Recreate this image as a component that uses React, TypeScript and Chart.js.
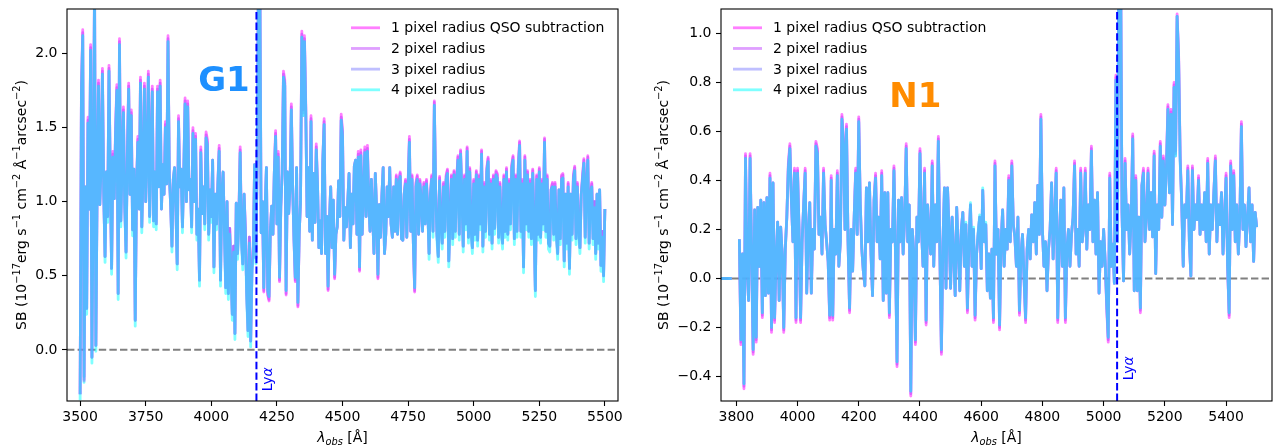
import React, { useEffect, useRef } from 'react';
import { Chart, registerables } from 'chart.js';

Chart.register(...registerables);

const FONT = "'DejaVu Sans', 'Liberation Sans', sans-serif";

const SERIES_LABELS = [
  '1 pixel radius QSO subtraction',
  '2 pixel radius',
  '3 pixel radius',
  '4 pixel radius',
];
const SERIES_COLORS = [
  'rgba(255,0,255,0.5)',
  'rgba(191,64,255,0.5)',
  'rgba(128,128,255,0.5)',
  'rgba(0,255,255,0.5)',
];

// ---------------- G1 panel (left) ----------------
const G1_WAVE_START = 3500;
const G1_WAVE_STEP = 5;
const G1_SB_R1 = [
  -0.30, 1.77, 2.16, -0.21, 1.10, 0.28, 1.57, 0.95, 2.06, -0.05, 1.15, 2.49, 0.03, 1.12, 1.82, 0.98, 1.25, 1.90, 1.05, 0.63,
  1.20, 0.90, 1.92, 1.15, 0.55, 1.34, 1.02, 1.49, 1.79, 0.38, 2.10, 0.87, 1.25, 1.64, 0.98, 0.66, 1.34, 1.80, 1.05, 1.62,
  0.81, 1.22, 0.20, 1.10, 1.44, 0.95, 1.84, 0.83, 1.20, 1.80, 1.00, 1.34, 1.88, 0.90, 1.39, 1.78, 0.87, 1.20, 0.85, 1.78,
  1.10, 1.82, 0.95, 1.25, 1.05, 1.54, 1.12, 2.12, 1.18, 0.98, 0.70, 1.15, 1.23, 0.95, 0.58, 1.58, 1.10, 1.22, 0.83, 1.20,
  1.70, 1.00, 1.68, 1.08, 1.15, 0.83, 1.50, 1.00, 1.46, 0.78, 0.95, 0.47, 1.37, 0.92, 1.10, 0.85, 1.47, 1.42, 0.78, 1.08,
  0.90, 1.28, 0.56, 1.05, 0.85, 1.12, 1.38, 0.47, 1.05, 1.20, 0.80, 0.42, 1.00, 0.38, 0.82, 0.55, 0.24, 0.70, 0.11, 0.99,
  0.65, 0.90, 1.37, 0.75, 0.58, 1.05, 0.80, 0.38, 0.13, 0.76, 0.06, 0.55, 0.70, 1.25, 0.62, 1.34, 2.64, 2.54, 0.79, 1.00,
  0.39, 0.95, 1.23, 0.37, 0.33, 0.80, 0.97, 0.78, 1.19, 1.48, 0.85, 1.34, 0.46, 0.97, 1.19, 1.88, 1.82, 0.37, 1.20, 0.92,
  1.10, 1.66, 1.10, 0.75, 0.46, 1.23, 0.29, 0.78, 1.00, 2.15, 1.62, 2.12, 1.65, 0.90, 1.23, 0.80, 1.58, 0.74, 1.19, 0.86,
  1.39, 1.10, 0.69, 0.87, 0.65, 1.28, 1.56, 0.65, 0.90, 0.40, 0.87, 1.10, 0.69, 1.01, 0.48, 0.78, 0.83, 1.14, 0.90, 1.59,
  1.48, 0.74, 0.96, 0.83, 1.00, 1.19, 0.69, 1.05, 0.85, 1.24, 1.28, 0.78, 1.34, 0.53, 1.35, 0.78, 1.05, 1.37, 0.90, 1.38,
  1.00, 0.80, 1.15, 0.90, 0.65, 1.19, 0.95, 0.48, 0.98, 0.76, 1.04, 1.23, 0.65, 0.78, 1.10, 0.90, 1.23, 0.85, 0.76, 1.10,
  0.80, 1.18, 0.78, 1.15, 1.20, 0.75, 0.74, 1.05, 1.15, 0.76, 1.13, 1.44, 0.80, 1.18, 0.72, 0.39, 1.13, 1.18, 0.78, 1.15,
  1.01, 0.80, 1.13, 0.85, 1.15, 0.95, 0.65, 1.05, 1.18, 0.80, 1.68, 1.08, 0.78, 0.63, 1.17, 0.85, 0.72, 1.13, 0.80, 1.18,
  1.22, 0.60, 0.90, 1.18, 0.75, 1.21, 0.80, 1.15, 1.31, 0.78, 1.35, 1.05, 0.70, 1.18, 0.85, 1.37, 0.76, 1.23, 0.82, 0.69,
  1.15, 0.78, 1.21, 0.74, 1.18, 0.85, 1.35, 0.70, 1.13, 0.80, 1.23, 1.30, 0.78, 1.15, 0.72, 1.18, 0.82, 1.21, 1.19, 0.76,
  1.13, 0.82, 0.72, 1.18, 0.80, 1.23, 0.78, 1.15, 0.85, 1.25, 1.31, 0.75, 1.18, 0.80, 1.25, 1.41, 0.80, 1.15, 0.56, 1.31,
  0.85, 1.21, 0.80, 1.15, 0.75, 1.22, 0.85, 0.40, 1.18, 0.78, 1.23, 0.76, 1.15, 0.85, 1.43, 0.80, 1.18, 0.72, 0.70, 1.08,
  1.13, 0.78, 1.13, 0.80, 0.65, 1.08, 0.75, 1.18, 1.19, 0.60, 1.05, 0.72, 1.13, 0.55, 1.05, 0.78, 1.18, 1.24, 0.75, 1.13,
  0.82, 0.69, 1.05, 1.18, 1.29, 0.76, 1.13, 1.31, 0.72, 1.05, 1.13, 0.75, 1.00, 0.65, 1.05, 0.72, 1.08, 0.57, 0.80, 0.50,
  0.95,
];
const G1_SB_R2 = [
  -0.30, 1.75, 2.14, -0.20, 1.10, 0.28, 1.55, 0.95, 2.04, -0.05, 1.15, 2.47, 0.03, 1.12, 1.80, 0.98, 1.25, 1.88, 1.05, 0.63,
  1.20, 0.90, 1.90, 1.15, 0.55, 1.32, 1.02, 1.47, 1.77, 0.38, 2.08, 0.87, 1.25, 1.62, 0.98, 0.66, 1.32, 1.78, 1.05, 1.60,
  0.81, 1.22, 0.20, 1.10, 1.42, 0.95, 1.82, 0.83, 1.20, 1.78, 1.00, 1.32, 1.86, 0.90, 1.37, 1.76, 0.87, 1.20, 0.85, 1.76,
  1.10, 1.80, 0.95, 1.25, 1.05, 1.52, 1.12, 2.10, 1.18, 0.98, 0.70, 1.15, 1.23, 0.95, 0.58, 1.56, 1.10, 1.22, 0.83, 1.20,
  1.68, 1.00, 1.66, 1.08, 1.15, 0.83, 1.48, 1.00, 1.44, 0.78, 0.95, 0.47, 1.35, 0.92, 1.10, 0.85, 1.45, 1.40, 0.78, 1.08,
  0.90, 1.28, 0.56, 1.05, 0.85, 1.12, 1.36, 0.47, 1.05, 1.20, 0.80, 0.42, 1.00, 0.38, 0.82, 0.55, 0.24, 0.70, 0.11, 0.99,
  0.65, 0.90, 1.35, 0.75, 0.58, 1.05, 0.80, 0.38, 0.13, 0.76, 0.06, 0.55, 0.70, 1.25, 0.62, 1.32, 2.62, 2.52, 0.79, 1.00,
  0.40, 0.95, 1.23, 0.38, 0.34, 0.80, 0.97, 0.78, 1.19, 1.46, 0.85, 1.32, 0.47, 0.97, 1.19, 1.86, 1.80, 0.38, 1.20, 0.92,
  1.10, 1.64, 1.10, 0.75, 0.47, 1.23, 0.30, 0.78, 1.00, 2.13, 1.60, 2.10, 1.63, 0.90, 1.23, 0.80, 1.56, 0.74, 1.19, 0.86,
  1.37, 1.10, 0.69, 0.87, 0.65, 1.28, 1.54, 0.65, 0.90, 0.41, 0.87, 1.10, 0.69, 1.01, 0.49, 0.78, 0.83, 1.14, 0.90, 1.57,
  1.46, 0.74, 0.96, 0.83, 1.00, 1.19, 0.69, 1.05, 0.85, 1.24, 1.28, 0.78, 1.32, 0.54, 1.33, 0.78, 1.05, 1.35, 0.90, 1.36,
  1.00, 0.80, 1.15, 0.90, 0.65, 1.19, 0.95, 0.49, 0.98, 0.76, 1.04, 1.23, 0.65, 0.78, 1.10, 0.90, 1.23, 0.85, 0.76, 1.10,
  0.80, 1.17, 0.78, 1.14, 1.19, 0.75, 0.74, 1.05, 1.14, 0.76, 1.12, 1.42, 0.80, 1.17, 0.72, 0.40, 1.12, 1.17, 0.78, 1.14,
  1.01, 0.80, 1.12, 0.85, 1.14, 0.95, 0.65, 1.05, 1.17, 0.80, 1.67, 1.08, 0.78, 0.63, 1.16, 0.85, 0.72, 1.12, 0.80, 1.17,
  1.21, 0.60, 0.90, 1.17, 0.75, 1.20, 0.80, 1.14, 1.30, 0.78, 1.34, 1.05, 0.70, 1.17, 0.85, 1.36, 0.76, 1.22, 0.82, 0.69,
  1.14, 0.78, 1.20, 0.74, 1.17, 0.85, 1.34, 0.70, 1.12, 0.80, 1.22, 1.29, 0.78, 1.14, 0.72, 1.17, 0.82, 1.20, 1.18, 0.76,
  1.12, 0.82, 0.72, 1.17, 0.80, 1.22, 0.78, 1.14, 0.85, 1.24, 1.30, 0.75, 1.17, 0.80, 1.24, 1.40, 0.80, 1.14, 0.56, 1.30,
  0.85, 1.20, 0.80, 1.14, 0.75, 1.21, 0.85, 0.40, 1.17, 0.78, 1.22, 0.76, 1.14, 0.85, 1.42, 0.80, 1.17, 0.72, 0.70, 1.08,
  1.12, 0.78, 1.12, 0.80, 0.65, 1.08, 0.75, 1.17, 1.18, 0.60, 1.05, 0.72, 1.12, 0.55, 1.05, 0.78, 1.17, 1.23, 0.75, 1.12,
  0.82, 0.69, 1.05, 1.17, 1.28, 0.76, 1.12, 1.30, 0.72, 1.05, 1.12, 0.75, 1.00, 0.65, 1.05, 0.72, 1.08, 0.57, 0.80, 0.50,
  0.95,
];
const G1_SB_R3 = [
  -0.30, 1.73, 2.12, -0.18, 1.10, 0.28, 1.53, 0.95, 2.02, -0.05, 1.15, 2.45, 0.03, 1.12, 1.78, 0.98, 1.25, 1.86, 1.05, 0.63,
  1.20, 0.90, 1.88, 1.15, 0.55, 1.30, 1.02, 1.45, 1.75, 0.38, 2.06, 0.87, 1.25, 1.60, 0.98, 0.66, 1.30, 1.76, 1.05, 1.58,
  0.81, 1.22, 0.20, 1.10, 1.40, 0.95, 1.80, 0.83, 1.20, 1.76, 1.00, 1.30, 1.84, 0.90, 1.35, 1.74, 0.87, 1.20, 0.85, 1.74,
  1.10, 1.78, 0.95, 1.25, 1.05, 1.50, 1.12, 2.08, 1.18, 0.98, 0.70, 1.15, 1.23, 0.95, 0.58, 1.54, 1.10, 1.22, 0.83, 1.20,
  1.66, 1.00, 1.64, 1.08, 1.15, 0.83, 1.46, 1.00, 1.42, 0.78, 0.95, 0.47, 1.33, 0.92, 1.10, 0.85, 1.43, 1.38, 0.78, 1.08,
  0.90, 1.28, 0.56, 1.05, 0.85, 1.12, 1.34, 0.47, 1.05, 1.20, 0.80, 0.42, 1.00, 0.38, 0.82, 0.55, 0.24, 0.70, 0.11, 0.99,
  0.65, 0.90, 1.33, 0.75, 0.58, 1.05, 0.80, 0.38, 0.13, 0.76, 0.06, 0.55, 0.70, 1.25, 0.62, 1.30, 2.60, 2.50, 0.79, 1.00,
  0.42, 0.95, 1.23, 0.40, 0.36, 0.80, 0.97, 0.78, 1.19, 1.44, 0.85, 1.30, 0.49, 0.97, 1.19, 1.84, 1.78, 0.40, 1.20, 0.92,
  1.10, 1.62, 1.10, 0.75, 0.49, 1.23, 0.32, 0.78, 1.00, 2.11, 1.58, 2.08, 1.61, 0.90, 1.23, 0.80, 1.54, 0.74, 1.19, 0.86,
  1.35, 1.10, 0.69, 0.87, 0.65, 1.28, 1.52, 0.65, 0.90, 0.43, 0.87, 1.10, 0.69, 1.01, 0.51, 0.78, 0.83, 1.14, 0.90, 1.55,
  1.44, 0.74, 0.96, 0.83, 1.00, 1.19, 0.69, 1.05, 0.85, 1.24, 1.28, 0.78, 1.30, 0.56, 1.31, 0.78, 1.05, 1.33, 0.90, 1.34,
  1.00, 0.80, 1.15, 0.90, 0.65, 1.19, 0.95, 0.51, 0.98, 0.76, 1.04, 1.23, 0.65, 0.78, 1.10, 0.90, 1.23, 0.85, 0.76, 1.10,
  0.80, 1.15, 0.78, 1.12, 1.17, 0.75, 0.74, 1.05, 1.12, 0.76, 1.10, 1.40, 0.80, 1.15, 0.72, 0.42, 1.10, 1.15, 0.78, 1.12,
  1.01, 0.80, 1.10, 0.85, 1.12, 0.95, 0.65, 1.05, 1.15, 0.80, 1.65, 1.08, 0.78, 0.63, 1.14, 0.85, 0.72, 1.10, 0.80, 1.15,
  1.19, 0.60, 0.90, 1.15, 0.75, 1.18, 0.80, 1.12, 1.28, 0.78, 1.32, 1.05, 0.70, 1.15, 0.85, 1.34, 0.76, 1.20, 0.82, 0.69,
  1.12, 0.78, 1.18, 0.74, 1.15, 0.85, 1.32, 0.70, 1.10, 0.80, 1.20, 1.27, 0.78, 1.12, 0.72, 1.15, 0.82, 1.18, 1.16, 0.76,
  1.10, 0.82, 0.72, 1.15, 0.80, 1.20, 0.78, 1.12, 0.85, 1.22, 1.28, 0.75, 1.15, 0.80, 1.22, 1.38, 0.80, 1.12, 0.56, 1.28,
  0.85, 1.18, 0.80, 1.12, 0.75, 1.19, 0.85, 0.40, 1.15, 0.78, 1.20, 0.76, 1.12, 0.85, 1.40, 0.80, 1.15, 0.72, 0.70, 1.08,
  1.10, 0.78, 1.10, 0.80, 0.65, 1.08, 0.75, 1.15, 1.16, 0.60, 1.05, 0.72, 1.10, 0.55, 1.05, 0.78, 1.15, 1.21, 0.75, 1.10,
  0.82, 0.69, 1.05, 1.15, 1.26, 0.76, 1.10, 1.28, 0.72, 1.05, 1.10, 0.75, 1.00, 0.65, 1.05, 0.72, 1.08, 0.57, 0.80, 0.50,
  0.95,
];
const G1_SB_R4 = [
  -0.34, 1.73, 2.12, -0.22, 1.10, 0.24, 1.53, 0.95, 2.02, -0.09, 1.15, 2.45, -0.01, 1.12, 1.78, 0.98, 1.25, 1.86, 1.05, 0.59,
  1.20, 0.86, 1.88, 1.15, 0.51, 1.30, 1.02, 1.45, 1.75, 0.34, 2.06, 0.83, 1.25, 1.60, 0.98, 0.62, 1.30, 1.76, 1.05, 1.58,
  0.77, 1.22, 0.16, 1.10, 1.40, 0.95, 1.80, 0.79, 1.20, 1.76, 1.00, 1.30, 1.84, 0.86, 1.35, 1.74, 0.83, 1.20, 0.81, 1.74,
  1.10, 1.78, 0.95, 1.25, 1.05, 1.50, 1.12, 2.08, 1.18, 0.98, 0.66, 1.15, 1.23, 0.95, 0.54, 1.54, 1.10, 1.22, 0.79, 1.20,
  1.66, 1.00, 1.64, 1.08, 1.15, 0.79, 1.46, 1.00, 1.42, 0.74, 0.95, 0.43, 1.33, 0.92, 1.10, 0.81, 1.43, 1.38, 0.74, 1.08,
  0.86, 1.28, 0.52, 1.05, 0.81, 1.12, 1.34, 0.43, 1.05, 1.20, 0.76, 0.38, 1.00, 0.34, 0.78, 0.51, 0.20, 0.66, 0.07, 0.99,
  0.61, 0.86, 1.33, 0.71, 0.54, 1.05, 0.76, 0.34, 0.09, 0.72, 0.02, 0.51, 0.66, 1.25, 0.58, 1.30, 2.60, 2.50, 0.79, 1.00,
  0.42, 0.95, 1.23, 0.40, 0.36, 0.80, 0.97, 0.78, 1.19, 1.44, 0.85, 1.30, 0.49, 0.97, 1.19, 1.84, 1.78, 0.40, 1.20, 0.92,
  1.10, 1.62, 1.10, 0.75, 0.49, 1.23, 0.32, 0.78, 1.00, 2.11, 1.58, 2.08, 1.61, 0.90, 1.23, 0.80, 1.54, 0.74, 1.19, 0.86,
  1.35, 1.10, 0.69, 0.87, 0.65, 1.28, 1.52, 0.65, 0.90, 0.43, 0.87, 1.10, 0.69, 1.01, 0.51, 0.78, 0.83, 1.14, 0.90, 1.55,
  1.44, 0.74, 0.96, 0.83, 1.00, 1.19, 0.69, 1.05, 0.85, 1.24, 1.28, 0.78, 1.30, 0.56, 1.31, 0.78, 1.05, 1.33, 0.90, 1.34,
  1.00, 0.80, 1.15, 0.90, 0.65, 1.19, 0.95, 0.51, 0.98, 0.76, 1.04, 1.23, 0.65, 0.78, 1.10, 0.90, 1.23, 0.85, 0.76, 1.10,
  0.80, 1.15, 0.78, 1.12, 1.17, 0.75, 0.74, 1.05, 1.12, 0.76, 1.10, 1.40, 0.80, 1.15, 0.72, 0.42, 1.10, 1.15, 0.78, 1.12,
  1.01, 0.80, 1.10, 0.85, 1.12, 0.95, 0.61, 1.05, 1.15, 0.76, 1.65, 1.08, 0.74, 0.59, 1.14, 0.81, 0.68, 1.10, 0.76, 1.15,
  1.19, 0.56, 0.86, 1.15, 0.71, 1.18, 0.76, 1.12, 1.28, 0.74, 1.32, 1.05, 0.66, 1.15, 0.81, 1.34, 0.72, 1.20, 0.78, 0.65,
  1.12, 0.74, 1.18, 0.70, 1.15, 0.81, 1.32, 0.66, 1.10, 0.76, 1.20, 1.27, 0.74, 1.12, 0.68, 1.15, 0.78, 1.18, 1.16, 0.72,
  1.10, 0.78, 0.68, 1.15, 0.76, 1.20, 0.74, 1.12, 0.81, 1.22, 1.28, 0.71, 1.15, 0.76, 1.22, 1.38, 0.76, 1.12, 0.52, 1.28,
  0.81, 1.18, 0.76, 1.12, 0.71, 1.19, 0.81, 0.36, 1.15, 0.74, 1.20, 0.72, 1.12, 0.81, 1.40, 0.76, 1.15, 0.68, 0.66, 1.08,
  1.10, 0.74, 1.10, 0.76, 0.61, 1.08, 0.71, 1.15, 1.16, 0.56, 1.05, 0.68, 1.10, 0.51, 1.05, 0.74, 1.15, 1.21, 0.71, 1.10,
  0.78, 0.65, 1.05, 1.15, 1.26, 0.72, 1.10, 1.28, 0.68, 1.05, 1.10, 0.71, 0.96, 0.61, 1.05, 0.68, 1.08, 0.53, 0.76, 0.46,
  0.95,
];
const G1_X_TICKS = [3500, 3750, 4000, 4250, 4500, 4750, 5000, 5250, 5500];
const G1_Y_TICKS = [0, 0.5, 1.0, 1.5, 2.0];
const G1_X_RANGE = [3450, 5550];
const G1_Y_RANGE = [-0.345, 2.3];
const G1_LYA = 4172;
const G1_LYA_LABEL_POS = [4192, -0.28];
const G1_NAME_POS = [3950, 1.75];

// ---------------- N1 panel (right) ----------------
const N1_WAVE_START = 3750;
const N1_WAVE_STEP = 5;
const N1_SB_R1 = [
  0, 0, 0, 0, 0, 0, 0, 0, null, null, null, null, 0.16, -0.27, 0.10, -0.45, 0.51, 0.05, -0.09, 0.51,
  0.10, -0.31, 0.28, -0.26, 0.29, 0.05, 0.32, -0.16, 0.31, -0.07, 0.33, -0.06, 0.43, -0.22, 0.39, -0.18, 0.08, 0.23, -0.09, 0.21,
  0.10, -0.22, 0.12, 0.25, 0.47, 0.55, 0.32, 0.15, 0.45, -0.18, 0.45, 0.20, -0.18, 0.15, 0.30, 0.45, -0.06, 0.18, 0.31, -0.06,
  0.20, 0.12, 0.56, 0.53, 0.18, 0.25, 0.10, 0.45, 0.22, 0.15, 0.07, -0.17, 0.42, -0.17, 0.20, 0.10, 0.44, 0.05, 0.15, 0.67,
  0.57, 0.20, 0.63, 0.15, -0.14, 0.20, 0.03, 0.25, 0.45, 0.18, 0.66, 0.30, 0.12, 0.03, -0.03, 0.37, 0.15, 0.39, 0.10, -0.07,
  0.32, 0.43, 0.15, 0.25, 0.08, 0.44, -0.09, 0.35, -0.06, 0.35, -0.16, 0.20, 0.15, 0.46, 0.10, -0.36, 0.32, 0.15, 0.33, 0.10,
  0.25, 0.55, 0.15, 0.30, -0.48, 0.20, 0.10, -0.27, 0.25, 0.15, 0.53, 0.20, 0.05, 0.45, -0.19, 0.30, 0.18, 0.10, 0.48, 0.05,
  0.30, 0.15, 0.58, 0.10, -0.31, 0.15, 0.37, -0.04, 0.37, 0.20, -0.04, 0.25, 0.10, -0.07, 0.29, 0.12, -0.05, 0.20, 0.27, 0.05,
  0.22, -0.14, 0.15, 0.30, 0.05, 0.20, -0.17, 0.10, 0.18, 0.25, 0.04, 0.36, 0.15, 0.22, -0.05, 0.10, -0.08, 0.12, -0.18, 0.48,
  0.10, 0.20, -0.21, 0.15, 0.28, 0.05, 0.20, 0.12, 0.42, 0.15, 0.48, 0.22, 0.17, 0.05, 0.25, -0.15, 0.10, 0.18, 0.00, -0.18,
  0.12, 0.20, 0.08, 0.26, 0.15, 0.31, 0.10, 0.38, 0.18, 0.67, 0.20, 0.05, 0.15, -0.05, 0.12, 0.20, 0.39, 0.08, 0.25, 0.45,
  -0.18, 0.15, 0.32, 0.05, 0.37, -0.18, 0.12, 0.20, 0.05, 0.18, 0.25, 0.48, 0.10, 0.20, 0.05, 0.45, 0.15, 0.21, 0.45, 0.12,
  0.30, 0.20, 0.54, 0.15, 0.32, 0.10, 0.35, -0.06, 0.15, 0.05, 0.20, 0.07, -0.12, -0.26, 0.43, 0.05, 0.14, -0.02, 0.83, 0.15,
  1.42, 1.42, 0.27, -0.01, 0.49, 0.20, 0.30, 0.10, 0.25, 0.59, -0.05, 0.42, -0.05, 0.25, -0.14, 0.38, 0.45, 0.15, 0.25, 0.45,
  0.20, 0.35, 0.17, 0.52, 0.02, 0.30, 0.20, 0.56, 0.25, 0.50, 0.30, 0.46, 0.71, 0.35, 0.69, 0.22, 0.80, 0.52, 1.08, 0.91,
  0.50, 0.31, 0.05, 0.30, 0.25, 0.46, 0.15, 0.01, 0.46, 0.20, 0.30, 0.24, 0.42, 0.18, 0.30, 0.20, 0.35, 0.15, 0.49, 0.10,
  0.30, 0.20, 0.35, 0.50, 0.15, 0.30, 0.22, 0.35, 0.10, 0.25, 0.43, 0.05, -0.16, 0.48, 0.20, 0.44, 0.15, 0.30, 0.10, 0.25,
  0.64, 0.20, 0.30, 0.13, 0.25, 0.37, 0.15, 0.30, 0.07, 0.27, 0.21,
];
const N1_SB_R2 = [
  0, 0, 0, 0, 0, 0, 0, 0, null, null, null, null, 0.16, -0.26, 0.10, -0.44, 0.50, 0.05, -0.09, 0.50,
  0.10, -0.30, 0.28, -0.25, 0.29, 0.05, 0.32, -0.15, 0.31, -0.07, 0.33, -0.06, 0.42, -0.21, 0.39, -0.17, 0.08, 0.23, -0.09, 0.21,
  0.10, -0.21, 0.12, 0.25, 0.46, 0.54, 0.32, 0.15, 0.44, -0.17, 0.44, 0.20, -0.17, 0.15, 0.30, 0.44, -0.06, 0.18, 0.31, -0.06,
  0.20, 0.12, 0.55, 0.52, 0.18, 0.25, 0.10, 0.44, 0.22, 0.15, 0.07, -0.16, 0.41, -0.16, 0.20, 0.10, 0.43, 0.05, 0.15, 0.66,
  0.56, 0.20, 0.62, 0.15, -0.13, 0.20, 0.03, 0.25, 0.44, 0.18, 0.65, 0.30, 0.12, 0.03, -0.03, 0.37, 0.15, 0.39, 0.10, -0.07,
  0.32, 0.42, 0.15, 0.25, 0.08, 0.43, -0.09, 0.35, -0.06, 0.35, -0.15, 0.20, 0.15, 0.45, 0.10, -0.35, 0.32, 0.15, 0.33, 0.10,
  0.25, 0.54, 0.15, 0.30, -0.47, 0.20, 0.10, -0.26, 0.25, 0.15, 0.52, 0.20, 0.05, 0.44, -0.18, 0.30, 0.18, 0.10, 0.47, 0.05,
  0.30, 0.15, 0.57, 0.10, -0.30, 0.15, 0.37, -0.04, 0.37, 0.20, -0.04, 0.25, 0.10, -0.07, 0.29, 0.12, -0.05, 0.20, 0.27, 0.05,
  0.22, -0.13, 0.15, 0.30, 0.05, 0.20, -0.16, 0.10, 0.18, 0.25, 0.04, 0.36, 0.15, 0.22, -0.05, 0.10, -0.08, 0.12, -0.17, 0.47,
  0.10, 0.20, -0.20, 0.15, 0.28, 0.05, 0.20, 0.12, 0.41, 0.15, 0.47, 0.22, 0.17, 0.05, 0.25, -0.14, 0.10, 0.18, 0.00, -0.17,
  0.12, 0.20, 0.08, 0.26, 0.15, 0.31, 0.10, 0.38, 0.18, 0.66, 0.20, 0.05, 0.15, -0.05, 0.12, 0.20, 0.39, 0.08, 0.25, 0.44,
  -0.17, 0.15, 0.32, 0.05, 0.37, -0.17, 0.12, 0.20, 0.05, 0.18, 0.25, 0.47, 0.10, 0.20, 0.05, 0.44, 0.15, 0.21, 0.44, 0.12,
  0.30, 0.20, 0.53, 0.15, 0.32, 0.10, 0.35, -0.06, 0.15, 0.05, 0.20, 0.07, -0.11, -0.25, 0.42, 0.05, 0.14, -0.02, 0.82, 0.15,
  1.41, 1.41, 0.27, -0.01, 0.48, 0.20, 0.30, 0.10, 0.25, 0.58, -0.05, 0.41, -0.05, 0.25, -0.13, 0.38, 0.44, 0.15, 0.25, 0.44,
  0.20, 0.35, 0.17, 0.51, 0.02, 0.30, 0.20, 0.55, 0.25, 0.49, 0.30, 0.45, 0.70, 0.35, 0.68, 0.22, 0.79, 0.51, 1.07, 0.90,
  0.49, 0.31, 0.05, 0.30, 0.25, 0.45, 0.15, 0.01, 0.45, 0.20, 0.30, 0.24, 0.41, 0.18, 0.30, 0.20, 0.35, 0.15, 0.48, 0.10,
  0.30, 0.20, 0.35, 0.49, 0.15, 0.30, 0.22, 0.35, 0.10, 0.25, 0.42, 0.05, -0.15, 0.47, 0.20, 0.43, 0.15, 0.30, 0.10, 0.25,
  0.63, 0.20, 0.30, 0.13, 0.25, 0.37, 0.15, 0.30, 0.07, 0.27, 0.21,
];
const N1_SB_R3 = [
  0, 0, 0, 0, 0, 0, 0, 0, null, null, null, null, 0.16, -0.25, 0.10, -0.43, 0.49, 0.05, -0.09, 0.49,
  0.10, -0.29, 0.28, -0.24, 0.29, 0.05, 0.32, -0.14, 0.31, -0.07, 0.33, -0.06, 0.41, -0.20, 0.39, -0.16, 0.08, 0.23, -0.09, 0.21,
  0.10, -0.20, 0.12, 0.25, 0.45, 0.53, 0.32, 0.15, 0.43, -0.16, 0.43, 0.20, -0.16, 0.15, 0.30, 0.43, -0.06, 0.18, 0.31, -0.06,
  0.20, 0.12, 0.54, 0.51, 0.18, 0.25, 0.10, 0.43, 0.22, 0.15, 0.07, -0.15, 0.40, -0.15, 0.20, 0.10, 0.42, 0.05, 0.15, 0.65,
  0.55, 0.20, 0.61, 0.15, -0.12, 0.20, 0.03, 0.25, 0.43, 0.18, 0.64, 0.30, 0.12, 0.03, -0.03, 0.37, 0.15, 0.39, 0.10, -0.07,
  0.32, 0.41, 0.15, 0.25, 0.08, 0.42, -0.09, 0.35, -0.06, 0.35, -0.14, 0.20, 0.15, 0.44, 0.10, -0.34, 0.32, 0.15, 0.33, 0.10,
  0.25, 0.53, 0.15, 0.30, -0.46, 0.20, 0.10, -0.25, 0.25, 0.15, 0.51, 0.20, 0.05, 0.43, -0.17, 0.30, 0.18, 0.10, 0.46, 0.05,
  0.30, 0.15, 0.56, 0.10, -0.29, 0.15, 0.37, -0.04, 0.37, 0.20, -0.04, 0.25, 0.10, -0.07, 0.29, 0.12, -0.05, 0.20, 0.27, 0.05,
  0.22, -0.12, 0.15, 0.30, 0.05, 0.20, -0.15, 0.10, 0.18, 0.25, 0.04, 0.36, 0.15, 0.22, -0.05, 0.10, -0.08, 0.12, -0.16, 0.46,
  0.10, 0.20, -0.19, 0.15, 0.28, 0.05, 0.20, 0.12, 0.40, 0.15, 0.46, 0.22, 0.17, 0.05, 0.25, -0.13, 0.10, 0.18, 0.00, -0.16,
  0.12, 0.20, 0.08, 0.26, 0.15, 0.31, 0.10, 0.38, 0.18, 0.65, 0.20, 0.05, 0.15, -0.05, 0.12, 0.20, 0.39, 0.08, 0.25, 0.43,
  -0.16, 0.15, 0.32, 0.05, 0.37, -0.16, 0.12, 0.20, 0.05, 0.18, 0.25, 0.46, 0.10, 0.20, 0.05, 0.43, 0.15, 0.21, 0.43, 0.12,
  0.30, 0.20, 0.52, 0.15, 0.32, 0.10, 0.35, -0.06, 0.15, 0.05, 0.20, 0.07, -0.10, -0.24, 0.41, 0.05, 0.14, -0.02, 0.81, 0.15,
  1.40, 1.40, 0.27, -0.01, 0.47, 0.20, 0.30, 0.10, 0.25, 0.57, -0.05, 0.40, -0.05, 0.25, -0.12, 0.38, 0.43, 0.15, 0.25, 0.43,
  0.20, 0.35, 0.17, 0.50, 0.02, 0.30, 0.20, 0.54, 0.25, 0.48, 0.30, 0.44, 0.69, 0.35, 0.67, 0.22, 0.78, 0.50, 1.07, 0.89,
  0.48, 0.31, 0.05, 0.30, 0.25, 0.44, 0.15, 0.01, 0.44, 0.20, 0.30, 0.24, 0.40, 0.18, 0.30, 0.20, 0.35, 0.15, 0.47, 0.10,
  0.30, 0.20, 0.35, 0.48, 0.15, 0.30, 0.22, 0.35, 0.10, 0.25, 0.41, 0.05, -0.14, 0.46, 0.20, 0.42, 0.15, 0.30, 0.10, 0.25,
  0.62, 0.20, 0.30, 0.13, 0.25, 0.37, 0.15, 0.30, 0.07, 0.27, 0.21,
];
const N1_SB_R4 = [
  0, 0, 0, 0, 0, 0, 0, 0, null, null, null, null, 0.16, -0.25, 0.10, -0.43, 0.49, 0.05, -0.09, 0.49,
  0.10, -0.29, 0.28, -0.24, 0.29, 0.05, 0.32, -0.14, 0.31, -0.07, 0.33, -0.06, 0.41, -0.20, 0.39, -0.16, 0.08, 0.23, -0.09, 0.21,
  0.10, -0.20, 0.12, 0.25, 0.45, 0.53, 0.32, 0.15, 0.43, -0.16, 0.43, 0.20, -0.16, 0.15, 0.30, 0.43, -0.06, 0.18, 0.31, -0.06,
  0.20, 0.12, 0.54, 0.51, 0.18, 0.25, 0.10, 0.43, 0.22, 0.15, 0.07, -0.15, 0.40, -0.15, 0.20, 0.10, 0.42, 0.05, 0.15, 0.65,
  0.55, 0.20, 0.61, 0.15, -0.12, 0.20, 0.03, 0.25, 0.43, 0.18, 0.64, 0.30, 0.12, 0.03, -0.03, 0.37, 0.15, 0.39, 0.10, -0.07,
  0.32, 0.41, 0.15, 0.25, 0.08, 0.42, -0.09, 0.35, -0.06, 0.35, -0.14, 0.20, 0.15, 0.44, 0.10, -0.34, 0.32, 0.15, 0.33, 0.10,
  0.25, 0.53, 0.15, 0.30, -0.46, 0.20, 0.10, -0.25, 0.25, 0.15, 0.51, 0.20, 0.05, 0.43, -0.17, 0.30, 0.18, 0.10, 0.46, 0.05,
  0.30, 0.15, 0.56, 0.10, -0.29, 0.15, 0.37, -0.04, 0.37, 0.20, -0.04, 0.25, 0.10, -0.07, 0.29, 0.12, -0.05, 0.20, 0.27, 0.05,
  0.23, -0.12, 0.16, 0.31, 0.05, 0.21, -0.15, 0.10, 0.19, 0.26, 0.04, 0.37, 0.15, 0.23, -0.05, 0.10, -0.08, 0.12, -0.16, 0.46,
  0.10, 0.20, -0.19, 0.15, 0.28, 0.05, 0.20, 0.12, 0.40, 0.15, 0.46, 0.22, 0.17, 0.05, 0.25, -0.13, 0.10, 0.18, 0.00, -0.16,
  0.12, 0.20, 0.08, 0.26, 0.15, 0.31, 0.10, 0.38, 0.18, 0.65, 0.20, 0.05, 0.15, -0.05, 0.12, 0.20, 0.39, 0.08, 0.25, 0.43,
  -0.16, 0.15, 0.32, 0.05, 0.37, -0.16, 0.12, 0.20, 0.05, 0.18, 0.25, 0.46, 0.10, 0.20, 0.05, 0.43, 0.15, 0.21, 0.43, 0.12,
  0.30, 0.20, 0.52, 0.15, 0.32, 0.10, 0.35, -0.06, 0.15, 0.05, 0.20, 0.07, -0.10, -0.24, 0.41, 0.05, 0.14, -0.02, 0.81, 0.15,
  1.40, 1.40, 0.27, -0.01, 0.47, 0.20, 0.30, 0.10, 0.25, 0.57, -0.05, 0.40, -0.05, 0.25, -0.12, 0.38, 0.43, 0.15, 0.25, 0.43,
  0.20, 0.35, 0.17, 0.50, 0.02, 0.30, 0.20, 0.54, 0.25, 0.48, 0.30, 0.44, 0.69, 0.35, 0.67, 0.22, 0.78, 0.50, 1.07, 0.89,
  0.48, 0.31, 0.05, 0.30, 0.25, 0.44, 0.15, 0.01, 0.44, 0.20, 0.30, 0.24, 0.40, 0.18, 0.30, 0.20, 0.35, 0.15, 0.47, 0.10,
  0.30, 0.20, 0.35, 0.48, 0.15, 0.30, 0.22, 0.35, 0.10, 0.25, 0.41, 0.05, -0.14, 0.46, 0.20, 0.42, 0.15, 0.30, 0.10, 0.25,
  0.62, 0.20, 0.30, 0.13, 0.25, 0.37, 0.15, 0.30, 0.07, 0.27, 0.21,
];
const N1_X_TICKS = [3800, 4000, 4200, 4400, 4600, 4800, 5000, 5200, 5400];
const N1_Y_TICKS = [-0.4, -0.2, 0, 0.2, 0.4, 0.6, 0.8, 1.0];
const N1_X_RANGE = [3750, 5550];
const N1_Y_RANGE = [-0.5, 1.1];
const N1_LYA = 5044;
const N1_LYA_LABEL_POS = [5061, -0.415];
const N1_NAME_POS = [4300, 0.7];

// ---------------- drawing helpers ----------------
type Seg = { t: string; size: number; italic?: boolean; bold?: boolean; dy?: number };

function segFont(s: Seg) {
  return `${s.italic ? 'italic ' : ''}${s.bold ? 'bold ' : ''}${s.size}px ${FONT}`;
}

function drawSegs(ctx: CanvasRenderingContext2D, segs: Seg[], x: number, y: number, align: 'left' | 'center') {
  let total = 0;
  for (const s of segs) {
    ctx.font = segFont(s);
    total += ctx.measureText(s.t).width;
  }
  let cx = align === 'center' ? x - total / 2 : x;
  ctx.textAlign = 'left';
  ctx.textBaseline = 'alphabetic';
  for (const s of segs) {
    ctx.font = segFont(s);
    ctx.fillText(s.t, cx, y + (s.dy || 0));
    cx += ctx.measureText(s.t).width;
  }
}

const SUP = 9.8;
const Y_TITLE: Seg[] = [
  { t: 'SB (10', size: 14 },
  { t: '\u221217', size: SUP, dy: -5.5 },
  { t: 'erg s', size: 14 },
  { t: '\u22121', size: SUP, dy: -5.5 },
  { t: ' cm', size: 14 },
  { t: '\u22122', size: SUP, dy: -5.5 },
  { t: ' \u00c5', size: 14 },
  { t: '\u22121', size: SUP, dy: -5.5 },
  { t: 'arcsec', size: 14 },
  { t: '\u22122', size: SUP, dy: -5.5 },
  { t: ')', size: 14 },
];
const X_TITLE: Seg[] = [
  { t: '\u03bb', size: 14, italic: true },
  { t: 'obs', size: SUP, italic: true, dy: 3 },
  { t: ' [\u00c5]', size: 14 },
];
const LYA_TEXT: Seg[] = [
  { t: 'Ly', size: 14 },
  { t: '\u03b1', size: 14, italic: true },
];

type PanelCfg = {
  width: number;
  left: number;
  area: { left: number; right: number; top: number; bottom: number };
  start: number;
  step: number;
  series: (number | null)[][];
  xTicks: number[];
  yTicks: number[];
  xRange: number[];
  yRange: number[];
  lya: number;
  lyaLabel: number[];
  name: string;
  nameColor: string;
  namePos: number[];
  yTitleX: number;
  legendX: number;
};

const fmtY = (v: number) => v.toFixed(1).replace('-', '\u2212');

const decorPlugin = {
  id: 'panelDecor',
  beforeDatasetsDraw(chart: any) {
    const { ctx, chartArea: a } = chart;
    const ys = chart.scales.y;
    ctx.save();
    ctx.strokeStyle = '#808080';
    ctx.lineWidth = 2;
    ctx.setLineDash([7.4, 3.2]);
    const y0 = ys.getPixelForValue(0);
    ctx.beginPath();
    ctx.moveTo(a.left, y0);
    ctx.lineTo(a.right, y0);
    ctx.stroke();
    ctx.restore();
  },
  afterDraw(chart: any, _args: any, opts: any) {
    const cfg: PanelCfg = opts.cfg;
    const { ctx, chartArea: a } = chart;
    const xs = chart.scales.x;
    const ys = chart.scales.y;
    ctx.save();

    // Ly-alpha line
    const xl = xs.getPixelForValue(cfg.lya);
    ctx.strokeStyle = '#0000ff';
    ctx.lineWidth = 2;
    ctx.setLineDash([7.4, 3.2]);
    ctx.beginPath();
    ctx.moveTo(xl, a.bottom);
    ctx.lineTo(xl, a.top);
    ctx.stroke();
    ctx.setLineDash([]);

    // Ly-alpha label (rotated)
    ctx.fillStyle = '#0000ff';
    ctx.save();
    ctx.translate(xs.getPixelForValue(cfg.lyaLabel[0]) + 10.4, ys.getPixelForValue(cfg.lyaLabel[1]));
    ctx.rotate(-Math.PI / 2);
    drawSegs(ctx, LYA_TEXT, 0, 0, 'left');
    ctx.restore();

    // panel name
    ctx.fillStyle = cfg.nameColor;
    ctx.font = `bold 34px ${FONT}`;
    ctx.textAlign = 'left';
    ctx.textBaseline = 'alphabetic';
    ctx.fillText(cfg.name, xs.getPixelForValue(cfg.namePos[0]), ys.getPixelForValue(cfg.namePos[1]));

    // legend
    const ds = chart.data.datasets;
    for (let i = 0; i < ds.length; i++) {
      const ry = 27.8 + i * 20.67;
      ctx.strokeStyle = ds[i].borderColor;
      ctx.lineWidth = 2.8;
      ctx.beginPath();
      ctx.moveTo(cfg.legendX, ry);
      ctx.lineTo(cfg.legendX + 29, ry);
      ctx.stroke();
      ctx.fillStyle = '#000';
      ctx.font = `14px ${FONT}`;
      ctx.textAlign = 'left';
      ctx.textBaseline = 'middle';
      ctx.fillText(ds[i].label, cfg.legendX + 40, ry + 0.8);
    }

    // axis titles
    ctx.fillStyle = '#000';
    drawSegs(ctx, X_TITLE, (a.left + a.right) / 2, 442, 'center');
    ctx.save();
    ctx.translate(cfg.yTitleX, (a.top + a.bottom) / 2);
    ctx.rotate(-Math.PI / 2);
    drawSegs(ctx, Y_TITLE, 0, 4.7, 'center');
    ctx.restore();

    // spines
    ctx.strokeStyle = '#000';
    ctx.lineWidth = 1.1;
    ctx.strokeRect(a.left, a.top, a.right - a.left, a.bottom - a.top);
    ctx.restore();
  },
};

function buildConfig(cfg: PanelCfg): any {
  const datasets = cfg.series.map((vals, i) => ({
    label: SERIES_LABELS[i],
    data: vals.map((v, j) => ({ x: cfg.start + cfg.step * j, y: v })),
    borderColor: SERIES_COLORS[i],
    backgroundColor: SERIES_COLORS[i],
    borderWidth: 2.8,
    pointRadius: 0,
    pointHoverRadius: 0,
    tension: 0,
    fill: false,
    spanGaps: false,
    order: 4 - i,
    clip: 0,
    borderJoinStyle: 'round',
  }));
  const tickFont = { family: FONT, size: 14 };
  const grid = {
    display: true,
    drawOnChartArea: false,
    drawTicks: true,
    tickLength: 5,
    tickWidth: 1.1,
    tickColor: '#000',
    color: '#000',
  };
  return {
    type: 'line',
    data: { datasets },
    plugins: [decorPlugin],
    options: {
      animation: false,
      responsive: false,
      devicePixelRatio: 1,
      events: [],
      layout: {
        padding: { left: 0, top: cfg.area.top, right: cfg.width - cfg.area.right, bottom: 0 },
      },
      plugins: {
        legend: { display: false },
        tooltip: { enabled: false },
        title: { display: false },
        panelDecor: { cfg },
      },
      scales: {
        x: {
          type: 'linear',
          min: cfg.xRange[0],
          max: cfg.xRange[1],
          grid,
          border: { display: false },
          ticks: {
            color: '#000',
            font: tickFont,
            padding: 3,
            maxRotation: 0,
            minRotation: 0,
            autoSkip: false,
            callback: (v: number) => String(v),
          },
          afterBuildTicks: (s: any) => {
            s.ticks = cfg.xTicks.map((v) => ({ value: v }));
          },
          afterFit: (s: any) => {
            s.height = 448 - cfg.area.bottom;
            s.paddingLeft = 0;
            s.paddingRight = 0;
          },
        },
        y: {
          type: 'linear',
          min: cfg.yRange[0],
          max: cfg.yRange[1],
          grid,
          border: { display: false },
          ticks: {
            color: '#000',
            font: tickFont,
            padding: 4.5,
            autoSkip: false,
            callback: (v: number) => fmtY(v),
          },
          afterBuildTicks: (s: any) => {
            s.ticks = cfg.yTicks.map((v) => ({ value: v }));
          },
          afterFit: (s: any) => {
            s.width = cfg.area.left;
            s.paddingTop = 0;
            s.paddingBottom = 0;
          },
        },
      },
    },
  };
}

const G1_CFG: PanelCfg = {
  width: 640,
  left: 0,
  area: { left: 67, right: 618, top: 9, bottom: 401 },
  start: G1_WAVE_START,
  step: G1_WAVE_STEP,
  series: [G1_SB_R1, G1_SB_R2, G1_SB_R3, G1_SB_R4],
  xTicks: G1_X_TICKS,
  yTicks: G1_Y_TICKS,
  xRange: G1_X_RANGE,
  yRange: G1_Y_RANGE,
  lya: G1_LYA,
  lyaLabel: G1_LYA_LABEL_POS,
  name: 'G1',
  nameColor: '#1e90ff',
  namePos: G1_NAME_POS,
  yTitleX: 21,
  legendX: 351,
};

const N1_CFG: PanelCfg = {
  width: 635,
  left: 640,
  area: { left: 81, right: 632, top: 9, bottom: 401 },
  start: N1_WAVE_START,
  step: N1_WAVE_STEP,
  series: [N1_SB_R1, N1_SB_R2, N1_SB_R3, N1_SB_R4],
  xTicks: N1_X_TICKS,
  yTicks: N1_Y_TICKS,
  xRange: N1_X_RANGE,
  yRange: N1_Y_RANGE,
  lya: N1_LYA,
  lyaLabel: N1_LYA_LABEL_POS,
  name: 'N1',
  nameColor: '#ff8c00',
  namePos: N1_NAME_POS,
  yTitleX: 23,
  legendX: 93,
};

function Panel({ cfg }: { cfg: PanelCfg }) {
  const ref = useRef<HTMLCanvasElement>(null);
  useEffect(() => {
    const chart = new Chart(ref.current as HTMLCanvasElement, buildConfig(cfg));
    return () => chart.destroy();
  }, [cfg]);
  return (
    <canvas
      ref={ref}
      width={cfg.width}
      height={448}
      style={{ position: 'absolute', left: cfg.left, top: 0, width: cfg.width, height: 448 }}
    />
  );
}

export default function App() {
  return (
    <div style={{ position: 'absolute', left: 0, top: 0, width: 1275, height: 448, background: '#fff', overflow: 'hidden' }}>
      <Panel cfg={G1_CFG} />
      <Panel cfg={N1_CFG} />
    </div>
  );
}
